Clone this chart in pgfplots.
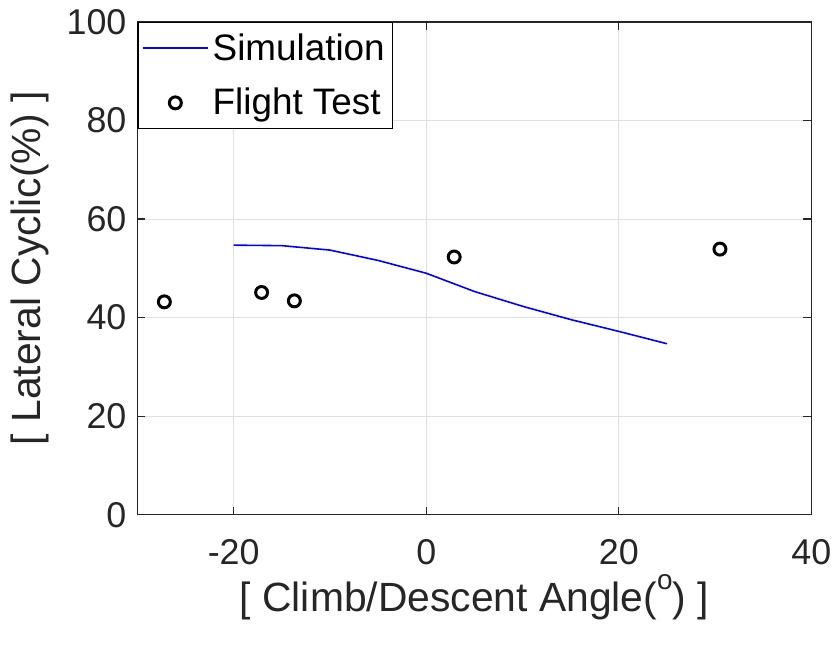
\documentclass[border=0pt]{standalone}
\usepackage{fontspec}
\setmainfont{Liberation Sans}
\usepackage{pgfplots}
\pgfplotsset{compat=1.18}
\begin{document}
\begin{tikzpicture}
\begin{axis}[
  at={(0,0)}, anchor=south west,
  scale only axis, width=338.5pt, height=247.5pt,
  xmin=-30, xmax=40, ymin=0, ymax=100,
  xtick={-20,0,20,40}, ytick={0,20,40,60,80,100},
  minor xtick={-30},
  grid=both, major grid style={gray!25, line width=0.5pt}, minor grid style={gray!25, line width=0.5pt},
  axis line style={black!85, line width=0.6pt},
  tick style={black!85, line width=0.6pt},
  tick align=inside, major tick length=4pt,
  /pgf/number format/assume math mode=true,
  ticklabel style={font=\fontsize{18}{21}\selectfont, text=black!85},
  xticklabel style={yshift=-9pt},
  yticklabel style={xshift=-2pt},
  xlabel={[ Climb/Descent Angle(\raisebox{0.55em}{\fontsize{14}{15}\selectfont o}) ]},
  ylabel={[ Lateral Cyclic(\%) ]},
  label style={font=\fontsize{20.5}{23}\selectfont, text=black!85},
  xlabel style={at={(axis description cs:0.5,0)}, anchor=center, yshift=-41.5pt},
  ylabel style={at={(axis description cs:0,0.5)}, anchor=center, yshift=54pt},
  legend style={at={(axis description cs:0,1)}, anchor=north west, draw=black, line width=0.6pt,
    font=\fontsize{18.5}{21}\selectfont, inner xsep=2pt, inner ysep=3.5pt, row sep=8.5pt,
    legend cell align=left},
  legend image code/.code={\draw[#1] (0cm,0cm) -- (1.15cm,0cm);},
]
\addplot[blue, line width=0.8pt] coordinates {
(-20,54.7) (-15,54.6) (-10,53.7) (-5,51.6) (0,49.0) (5,45.3) (10,42.3) (15,39.6) (20,37.2) (25,34.7)
};
\addlegendentry{Simulation}
\addplot[only marks, mark=o, mark size=3pt, black, line width=1.5pt,
  legend image code/.code={\draw[mark repeat=2,mark phase=2] plot coordinates {(0cm,0cm) (0.575cm,0cm) (1.15cm,0cm)};}] coordinates {
(-27.2,43.2) (-17.1,45.1) (-13.7,43.4) (2.9,52.3) (30.5,53.9)
};
\addlegendentry{Flight Test}
\end{axis}
\path[use as bounding box] (-69pt,-66pt) rectangle (350pt,258.5pt);
\end{tikzpicture}
\end{document}
